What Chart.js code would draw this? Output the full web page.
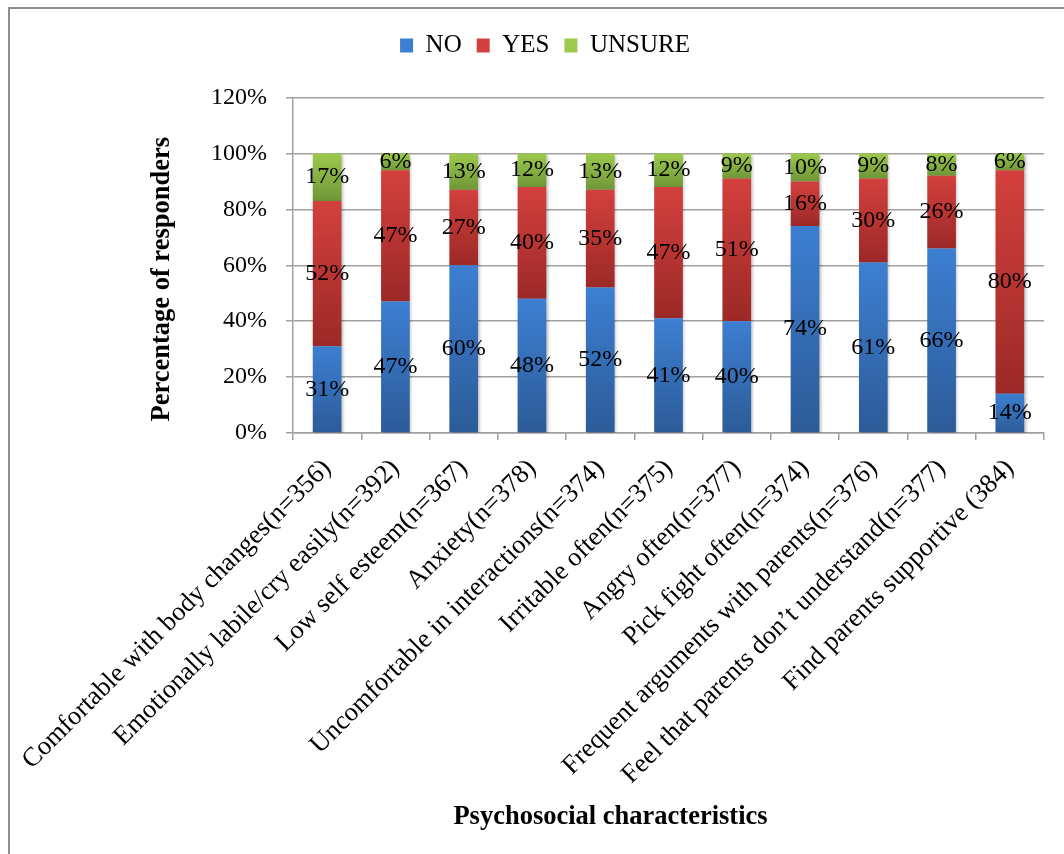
<!DOCTYPE html>
<html>
<head>
<meta charset="utf-8">
<script src="https://cdn.jsdelivr.net/npm/chart.js@4.4.1/dist/chart.umd.min.js"></script>
<style>
  html, body { margin: 0; padding: 0; background: #fff; overflow: hidden; }
  #wrap { position: relative; width: 1064px; height: 854px; }
  #frame { position: absolute; left: 8px; top: 7px; width: 1100px; height: 900px; border: 2px solid #8e8e8e; box-sizing: border-box; }
  #c { position: absolute; left: 0; top: 0; }
</style>
</head>
<body>
<div id="wrap">
  <div id="frame"></div>
  <canvas id="c" width="1064" height="854"></canvas>
</div>
<script>
const categories = [
  'Comfortable with body changes(n=356)',
  'Emotionally labile/cry easily(n=392)',
  'Low self esteem(n=367)',
  'Anxiety(n=378)',
  'Uncomfortable in interactions(n=374)',
  'Irritable often(n=375)',
  'Angry often(n=377)',
  'Pick fight often(n=374)',
  'Frequent arguments with parents(n=376)',
  'Feel that parents don\u2019t understand(n=377)',
  'Find parents supportive (384)'
];
const seriesNames = ['NO', 'YES', 'UNSURE'];
const noValues     = [31, 47, 60, 48, 52, 41, 40, 74, 61, 66, 14];
const yesValues    = [52, 47, 27, 40, 35, 47, 51, 16, 30, 26, 80];
const unsureValues = [17,  6, 13, 12, 13, 12,  9, 10,  9,  8,  6];
const yMin = 0, yMax = 120, yStep = 20;

const SERIF = "'Liberation Serif', 'Times New Roman', serif";
const GRID = '#a0a0a0';

function segmentFill(light, dark, mid) {
  return function (ctx) {
    const chart = ctx.chart;
    if (ctx.type !== 'data' || !chart.chartArea || !chart.scales.y) return mid;
    const ds = chart.data.datasets;
    let base = 0;
    for (let d = 0; d < ctx.datasetIndex; d++) base += ds[d].data[ctx.dataIndex];
    const top = base + ds[ctx.datasetIndex].data[ctx.dataIndex];
    const y = chart.scales.y;
    const yTop = y.getPixelForValue(top), yBot = y.getPixelForValue(base);
    if (!isFinite(yTop) || !isFinite(yBot) || yTop === yBot) return mid;
    const g = chart.ctx.createLinearGradient(0, yTop, 0, yBot);
    g.addColorStop(0, light);
    g.addColorStop(1, dark);
    return g;
  };
}

const legendSpacer = {
  id: 'legendSpacer',
  beforeLayout(chart) {
    const lg = chart.legend;
    if (lg && !lg._spaced) {
      const fit = lg.fit;
      lg.fit = function () { fit.call(this); this.height += 29.5; };
      lg._spaced = true;
    }
  }
};

function shiftTitle(scale, dx, dy) {
  if (!scale || scale._shifted) return;
  const orig = scale.drawTitle;
  scale.drawTitle = function () {
    const c = this.ctx;
    c.save();
    c.translate(dx, dy);
    orig.apply(this, arguments);
    c.restore();
  };
  scale._shifted = true;
}

const titleShift = {
  id: 'titleShift',
  afterLayout(chart) {
    shiftTitle(chart.scales.x, -58, 0);
    shiftTitle(chart.scales.y, 0, 14);
  }
};

const barShadow = {
  id: 'barShadow',
  beforeDatasetDraw(chart) {
    const c = chart.ctx;
    c.save();
    c.shadowColor = 'rgba(0,0,0,0.28)';
    c.shadowBlur = 3;
    c.shadowOffsetX = 1.5;
    c.shadowOffsetY = 1.5;
  },
  afterDatasetDraw(chart) {
    chart.ctx.restore();
  }
};

const segmentLabels = {
  id: 'segmentLabels',
  afterDatasetsDraw(chart) {
    const c = chart.ctx;
    c.save();
    c.font = '24px ' + SERIF;
    c.fillStyle = '#000';
    c.textAlign = 'center';
    c.textBaseline = 'middle';
    chart.data.datasets.forEach((ds, di) => {
      const meta = chart.getDatasetMeta(di);
      meta.data.forEach((el, i) => {
        const p = el.getProps(['x', 'y', 'base'], true);
        c.fillText(ds.data[i] + '%', p.x, (p.y + p.base) / 2);
      });
    });
    c.restore();
  }
};

new Chart(document.getElementById('c'), {
  type: 'bar',
  data: {
    labels: categories,
    datasets: [
      { label: seriesNames[0], data: noValues,
        backgroundColor: segmentFill('#3d7fd2', '#2c5b98', '#3670bb') },
      { label: seriesNames[1], data: yesValues,
        backgroundColor: segmentFill('#d3403d', '#9c2927', '#bb3633') },
      { label: seriesNames[2], data: unsureValues,
        backgroundColor: segmentFill('#9dca4c', '#6f9637', '#8ab443') }
    ]
  },
  options: {
    responsive: false,
    animation: false,
    events: [],
    datasets: {
      bar: { barPercentage: 0.42, categoryPercentage: 1.0, borderWidth: 0, borderColor: 'rgba(0,0,0,0)' }
    },
    layout: { padding: { top: 18, left: 46, right: 20, bottom: 0 } },
    plugins: {
      legend: {
        position: 'top',
        align: 'center',
        labels: {
          font: { family: SERIF, size: 25 },
          color: '#000',
          boxWidth: 13,
          boxHeight: 14,
          padding: 15
        }
      },
      tooltip: { enabled: false }
    },
    scales: {
      x: {
        stacked: true,
        offset: true,
        grid: { display: true, drawOnChartArea: false, drawTicks: true, tickLength: 7, offset: true, color: GRID, lineWidth: 1.5 },
        border: { display: true, color: GRID, width: 1.5 },
        ticks: {
          font: { family: SERIF, size: 26.5 },
          color: '#000',
          minRotation: 45,
          maxRotation: 45,
          autoSkip: false,
          padding: 13
        },
        title: {
          display: true,
          text: 'Psychosocial characteristics',
          font: { family: SERIF, size: 26.5, weight: 'bold' },
          color: '#000',
          padding: { top: 0, bottom: 21 }
        },
        afterFit(s) { s.height = 421; }
      },
      y: {
        stacked: true,
        min: yMin,
        max: yMax,
        grid: { color: GRID, lineWidth: 1.5, tickLength: 7, drawTicks: true },
        border: { display: true, color: GRID, width: 1.5 },
        ticks: {
          stepSize: yStep,
          font: { family: SERIF, size: 24 },
          color: '#000',
          padding: 19,
          callback: (v) => v + '%'
        },
        title: {
          display: true,
          text: 'Percentage of responders',
          font: { family: SERIF, size: 26.5, weight: 'bold' },
          color: '#000',
          padding: { top: 100, bottom: 0 }
        },
        afterFit(s) { s.width = 247; }
      }
    }
  },
  plugins: [legendSpacer, titleShift, barShadow, segmentLabels]
});
</script>
</body>
</html>
